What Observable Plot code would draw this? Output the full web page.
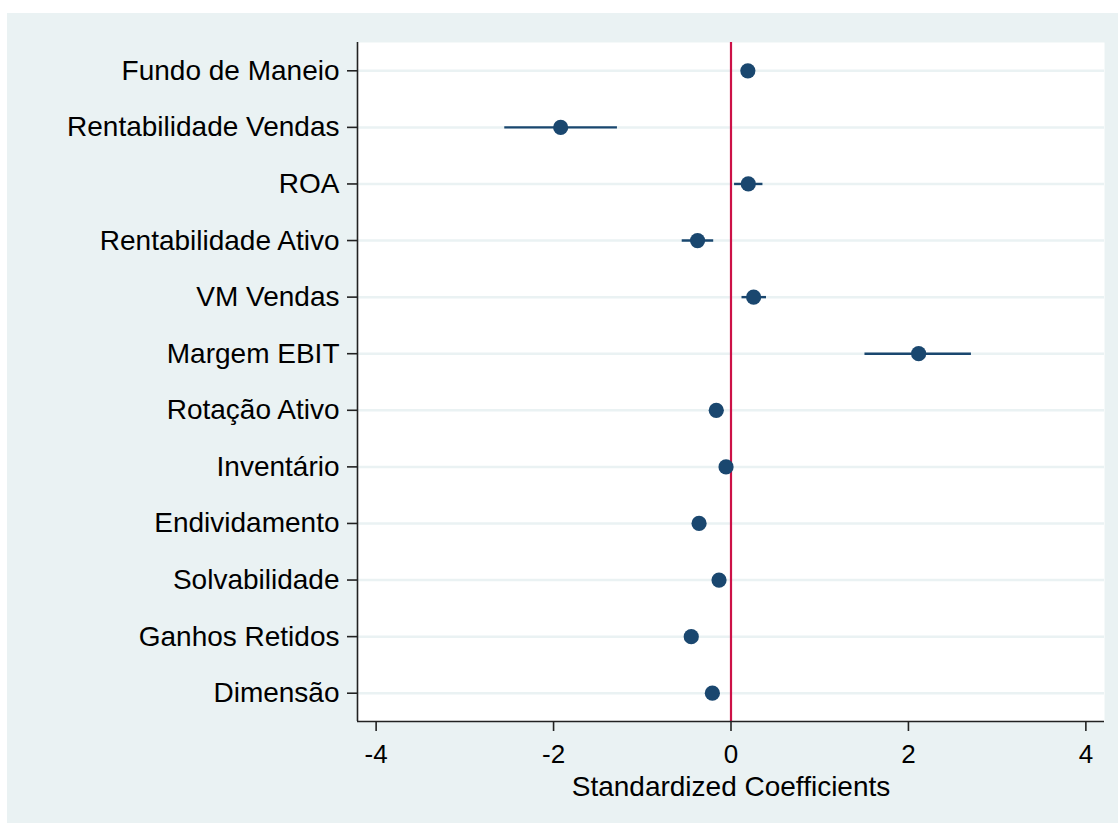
<!DOCTYPE html>
<html>
<head>
<meta charset="utf-8">
<script src="https://cdn.jsdelivr.net/npm/d3@7"></script>
<script src="https://cdn.jsdelivr.net/npm/@observablehq/plot@0.6"></script>
<style>
  html, body { margin: 0; padding: 0; background: #ffffff; }
  #wrap { padding: 13px 0 0 7px; width: 1111px; }
  svg { display: block; }
</style>
</head>
<body>
<div id="wrap"></div>
<script>
const categories = ["Fundo de Maneio", "Rentabilidade Vendas", "ROA", "Rentabilidade Ativo", "VM Vendas", "Margem EBIT", "Rotação Ativo", "Inventário", "Endividamento", "Solvabilidade", "Ganhos Retidos", "Dimensão"];
const coef  = [0.19, -1.92, 0.195, -0.377, 0.255, 2.115, -0.166, -0.056, -0.36, -0.135, -0.448, -0.21];
const lower = [0.14, -2.55, 0.04, -0.55, 0.124, 1.51, -0.21, -0.10, -0.41, -0.18, -0.52, -0.26];
const upper = [0.24, -1.28, 0.36, -0.195, 0.40, 2.71, -0.12, -0.01, -0.31, -0.09, -0.38, -0.16];
const xTicks = [-4, -2, 0, 2, 4];
const xDomain = [-4.21, 4.21];
const xTitle = "Standardized Coefficients";

const rows = categories.map((c, i) => ({name: c, b: coef[i], lo: lower[i], hi: upper[i]}));

const navy = "#1A476F";
const axisColor = "#222222";
const font = "'Liberation Sans', Arial, Helvetica, sans-serif";

const W = 1111, H = 810, mT = 29, mB = 102;
const halfStep = (H - mT - mB) / categories.length / 2;

const chart = Plot.plot({
  width: W,
  height: H,
  marginLeft: 350,
  marginTop: mT,
  marginRight: 14,
  marginBottom: mB,
  style: {background: "#EAF2F3", fontFamily: font, color: "#000"},
  x: {domain: xDomain},
  y: {type: "point", domain: categories, padding: 0.5, round: false},
  marks: [
    Plot.frame({fill: "white", stroke: null}),
    Plot.ruleY(categories, {y: d => d, stroke: "#EAF2F3", strokeWidth: 2.5}),
    Plot.ruleX([0], {stroke: "#CC1147", strokeWidth: 2.2}),
    Plot.ruleY(rows, {y: "name", x1: "lo", x2: "hi", stroke: navy, strokeWidth: 2.4}),
    Plot.dot(rows, {x: "b", y: "name", r: 7.6, fill: navy, stroke: null}),
    Plot.ruleX([xDomain[0]], {stroke: axisColor, strokeWidth: 1.6}),
    Plot.ruleY([categories[categories.length - 1]], {dy: halfStep, stroke: axisColor, strokeWidth: 1.6}),
    Plot.axisX({ticks: xTicks, tickSize: 10, tickPadding: 13, fontSize: 26, label: null, stroke: axisColor, strokeWidth: 1.6, tickFormat: d => d < 0 ? "-" + Math.abs(d) : String(d)}),
    Plot.axisY({tickSize: 10, tickPadding: 8, fontSize: 28, label: null, stroke: axisColor, strokeWidth: 1.6}),
    Plot.text([xTitle], {frameAnchor: "bottom", dy: 66, fontSize: 28, fill: "#000", lineAnchor: "middle"})
  ]
});
document.getElementById("wrap").appendChild(chart);
</script>
</body>
</html>
